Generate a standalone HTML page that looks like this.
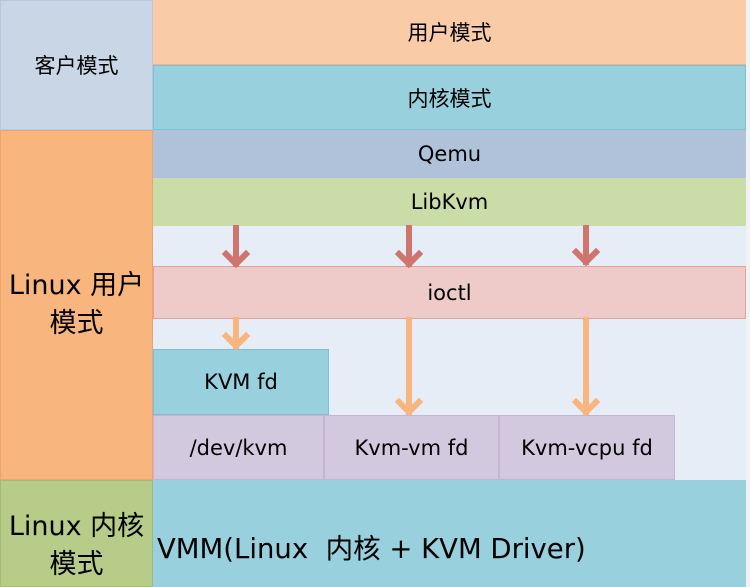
<!DOCTYPE html>
<html><head><meta charset="utf-8"><style>
body{margin:0;width:750px;height:587px;position:relative;background:#f2f2f2;overflow:hidden;font-family:"DejaVu Sans","Liberation Sans","Noto Sans CJK SC",sans-serif;color:#000}
.b{position:absolute;box-sizing:border-box;display:flex;align-items:center;justify-content:center;text-align:center;font-size:21px}
</style></head><body>
<div class="b" style="left:0;top:0;width:153px;height:130px;background:#c9d6e6;border:1px solid #b8c8dc">客户模式</div>
<div class="b" style="left:153px;top:0;width:593px;height:65px;background:#f9cca7;border-bottom:1px solid #efb487">用户模式</div>
<div class="b" style="left:153px;top:65px;width:593px;height:65px;background:#98d0de;border:1px solid #7cc1d3">内核模式</div>
<div class="b" style="left:0;top:130px;width:153px;height:350px;background:#f9b57e;border:1px solid #eda36a;font-size:27px;line-height:38px">Linux 用户<br>模式</div>
<div class="b" style="left:153px;top:130px;width:593px;height:48px;background:#b0c2d9">Qemu</div>
<div class="b" style="left:153px;top:178px;width:593px;height:48px;background:#cadca8">LibKvm</div>
<div class="b" style="left:153px;top:226px;width:593px;height:254px;background:#e7edf7"></div>
<div class="b" style="left:153px;top:266px;width:593px;height:53px;background:#eecbc9;border:1px solid #e3a09d">ioctl</div>
<div class="b" style="left:153px;top:349px;width:176px;height:66px;background:#98d0de;border:1px solid #7cc1d3">KVM fd</div>
<div class="b" style="left:153px;top:415px;width:171px;height:65px;background:#d3c9df;border:1px solid #c2b6d2">/dev/kvm</div>
<div class="b" style="left:324px;top:415px;width:175px;height:65px;background:#d3c9df;border:1px solid #c2b6d2">Kvm-vm fd</div>
<div class="b" style="left:499px;top:415px;width:176px;height:65px;background:#d3c9df;border:1px solid #c2b6d2">Kvm-vcpu fd</div>
<div class="b" style="left:0;top:480px;width:153px;height:107px;background:#b7cc88;border:1px solid #a3bb75;font-size:27px;line-height:38px;padding-top:24px">Linux 内核<br>模式</div>
<div class="b" style="left:153px;top:480px;width:593px;height:107px;background:#98d0de;justify-content:flex-start;padding-left:4px;padding-top:24px;font-size:27.5px">VMM(Linux&nbsp; 内核 + KVM Driver)</div>
<svg style="position:absolute;left:0;top:0" width="750" height="587">
<g fill="none" stroke-width="6" stroke-linecap="square">
<g stroke="#d0756e">
<path d="M236 228V264M226 254L236 264L246 254"/>
<path d="M409 228V264M399 254L409 264L419 254"/>
<path d="M586 228V262M576 252L586 262L596 252"/>
</g>
<g stroke="#f9b57e">
<path d="M236 320V346M226 336L236 346L246 336"/>
<path d="M409 320V412M399 402L409 412L419 402"/>
<path d="M586 320V412M576 402L586 412L596 402"/>
</g>
</g>
</svg>
</body></html>
